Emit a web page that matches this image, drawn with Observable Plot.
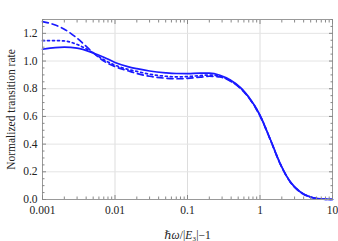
<!DOCTYPE html>
<html><head><meta charset="utf-8">
<script src="https://cdn.jsdelivr.net/npm/d3@7"></script>
<script src="https://cdn.jsdelivr.net/npm/@observablehq/plot@0.6"></script>
<style>body{margin:0;background:#fff}</style>
</head><body><div id="chart"></div>
<script>
const xs = [0.001, 0.0015, 0.002, 0.003, 0.005, 0.007, 0.01, 0.015, 0.02, 0.03, 0.05, 0.07, 0.1, 0.15, 0.2, 0.28, 0.39, 0.54, 0.7, 1, 1.4, 1.9, 2.6, 3.6, 5, 6.8, 10];
const solid  = [1.085, 1.097, 1.100, 1.093, 1.058, 1.028, 0.990, 0.960, 0.945, 0.928, 0.915, 0.910, 0.909, 0.912, 0.912, 0.897, 0.863, 0.808, 0.740, 0.610, 0.430, 0.260, 0.130, 0.055, 0.018, 0.004, 0];
const dotted = [1.147, 1.148, 1.145, 1.120, 1.058, 1.010, 0.970, 0.940, 0.925, 0.905, 0.890, 0.886, 0.888, 0.895, 0.899, 0.890, 0.858, 0.804, 0.737, 0.606, 0.428, 0.258, 0.129, 0.054, 0.017, 0.004, 0];
const dashed = [1.285, 1.260, 1.230, 1.165, 1.060, 1.000, 0.960, 0.930, 0.910, 0.890, 0.876, 0.872, 0.875, 0.884, 0.890, 0.885, 0.855, 0.801, 0.735, 0.603, 0.426, 0.256, 0.128, 0.053, 0.017, 0.004, 0];
const xMajor = [0.001, 0.01, 0.1, 1, 10];
const xMajorLabels = ["0.001", "0.01", "0.1", "1", "10"];
const yMajor = [0, 0.2, 0.4, 0.6, 0.8, 1.0, 1.2];
const yMinor = d3.range(0, 1.31, 0.05).filter(v => Math.abs(Math.round(v / 0.2) * 0.2 - v) > 1e-6);
const xMinor = [];
for (const d of [0.001, 0.01, 0.1, 1]) for (let k = 2; k <= 9; k++) xMinor.push(d * k);

const rows = [];
xs.forEach((x, i) => {
  rows.push({x, y: solid[i], s: "solid"});
  rows.push({x, y: dotted[i], s: "dotted"});
  rows.push({x, y: dashed[i], s: "dashed"});
});
const blue = "#1a1aff";
const tickCol = "#888";
const line = (s, dash) => Plot.line(rows.filter(d => d.s === s), {x: "x", y: "y", stroke: blue, strokeWidth: 1.7, strokeDasharray: dash, curve: "monotone-x"});

const chart = Plot.plot({
  width: 338, height: 241,
  marginLeft: 42, marginRight: 6, marginTop: 19, marginBottom: 42,
  style: {fontFamily: "'Liberation Serif', 'DejaVu Serif', serif", fontSize: "11.5px", color: "#222", background: "#fff"},
  x: {type: "log", domain: [0.001, 10]},
  y: {domain: [0, 1.3]},
  marks: [
    Plot.gridX([0.01, 0.1, 1], {stroke: "#ddd", strokeOpacity: 1}),
    Plot.gridY([0.2, 0.4, 0.6, 0.8, 1.0, 1.2], {stroke: "#e4e4e4", strokeOpacity: 1}),
    line("solid", null),
    line("dotted", "2,3"),
    line("dashed", "6,4"),
    Plot.frame({stroke: "#999"}),
    Plot.axisX(xMajor, {anchor: "bottom", tickSize: 0, tickPadding: 6, tickFormat: (d, i) => xMajorLabels[xMajor.indexOf(d)], label: "ℏω/|E₃|−1", labelAnchor: "center", labelArrow: "none", labelOffset: 39}),
    Plot.axisX(xMajor, {anchor: "bottom", tickSize: -4, stroke: tickCol, tickFormat: () => "", label: null}),
    Plot.axisX(xMajor, {anchor: "top", tickSize: -4, stroke: tickCol, tickFormat: () => "", label: null}),
    Plot.axisX(xMinor, {anchor: "bottom", tickSize: -2.5, stroke: tickCol, tickFormat: () => "", label: null}),
    Plot.axisX(xMinor, {anchor: "top", tickSize: -2.5, stroke: tickCol, tickFormat: () => "", label: null}),
    Plot.axisY(yMajor, {anchor: "left", tickSize: 0, tickPadding: 5, tickFormat: d => d.toFixed(1), label: "Normalized transition rate", labelAnchor: "center", labelArrow: "none", labelOffset: 36}),
    Plot.axisY(yMajor, {anchor: "left", tickSize: -4, stroke: tickCol, tickFormat: () => "", label: null}),
    Plot.axisY(yMajor, {anchor: "right", tickSize: -4, stroke: tickCol, tickFormat: () => "", label: null}),
    Plot.axisY(yMinor, {anchor: "left", tickSize: -2.5, stroke: tickCol, tickFormat: () => "", label: null}),
    Plot.axisY(yMinor, {anchor: "right", tickSize: -2.5, stroke: tickCol, tickFormat: () => "", label: null})
  ]
});
// italicize the symbols in the x label
chart.querySelectorAll("text").forEach(t => {
  if (t.textContent === "ℏω/|E₃|−1") {
    t.textContent = "";
    const parts = [["ℏω", true], ["/|", false], ["E", true], ["₃", false], ["|−1", false]];
    for (const [s, it] of parts) {
      const ts = document.createElementNS("http://www.w3.org/2000/svg", "tspan");
      ts.textContent = s;
      if (it) ts.setAttribute("font-style", "italic");
      t.appendChild(ts);
    }
  }
});
document.getElementById("chart").appendChild(chart);
</script>
</body></html>
